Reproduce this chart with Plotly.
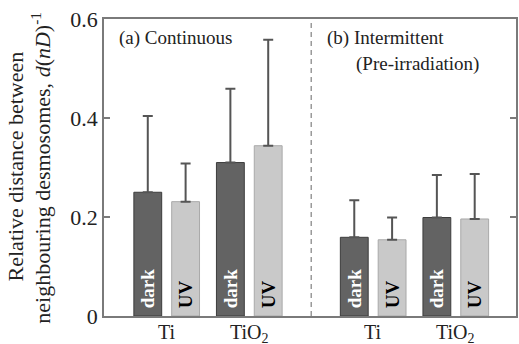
import plotly.graph_objects as go

# ---- data ----
categories = ["Ti", "TiO<sub>2</sub>"]
panels = ["(a) Continuous", "(b) Intermittent", "(Pre-irradiation)"]
series_names = ["dark", "UV"]
dark_mean = [0.250, 0.310, 0.159, 0.199]
dark_err = [0.154, 0.149, 0.075, 0.086]
uv_mean = [0.231, 0.344, 0.154, 0.196]
uv_err = [0.077, 0.214, 0.045, 0.091]
y_ticks = [0, 0.2, 0.4, 0.6]
y_ticktext = ["0", "0.2", "0.4", "0.6"]
y_title_lines = ["Relative distance between",
                 "neighbouring desmosomes, <i>d</i>(<i>nD</i>)<sup>-1</sup>"]

# group positions: two panels, two categories each, panels separated by an extra half slot
group_x = [1 + c + 2.5 * p for p in range(2) for c in range(len(categories))]
ticktext = categories * 2
divider_x = (group_x[1] + group_x[2]) / 2

SERIF = "Times New Roman, Liberation Serif, serif"

fig = go.Figure()
fig.add_trace(go.Bar(
    x=group_x, y=dark_mean, name=series_names[0],
    marker=dict(color="#636363", line=dict(color="#3c3c3c", width=1)),
    error_y=dict(type="data", array=dark_err, arrayminus=[0] * len(dark_err),
                 symmetric=False, color="#555555", thickness=2, width=5),
    text=[" " + series_names[0]] * len(dark_mean), textposition="inside",
    insidetextanchor="start", textangle=-90, constraintext="none",
    textfont=dict(family=SERIF, size=19, color="white", weight="bold"),
    hoverinfo="skip",
))
fig.add_trace(go.Bar(
    x=group_x, y=uv_mean, name=series_names[1],
    marker=dict(color="#c9c9c9", line=dict(color="#a9a9a9", width=1)),
    error_y=dict(type="data", array=uv_err, arrayminus=[0] * len(uv_err),
                 symmetric=False, color="#555555", thickness=2, width=5),
    text=[" " + series_names[1]] * len(uv_mean), textposition="inside",
    insidetextanchor="start", textangle=-90, constraintext="none",
    textfont=dict(family=SERIF, size=19, color="black", weight="bold"),
    hoverinfo="skip",
))

fig.add_shape(type="line", xref="x", yref="paper", x0=divider_x, x1=divider_x,
              y0=0, y1=1, line=dict(color="#9a9a9a", width=1.5, dash="5px,4px"))

ann_font = dict(family=SERIF, size=19, color="#222222")
fig.add_annotation(text=panels[0], xref="paper", yref="paper", x=0.031, y=0.935,
                   xanchor="left", yanchor="middle", showarrow=False, font=ann_font)
fig.add_annotation(text=panels[1], xref="paper", yref="paper", x=0.536, y=0.935,
                   xanchor="left", yanchor="middle", showarrow=False, font=ann_font)
fig.add_annotation(text=panels[2], xref="paper", yref="paper", x=0.606, y=0.85,
                   xanchor="left", yanchor="middle", showarrow=False, font=ann_font)

title_font = dict(family=SERIF, size=22, color="#222222")
fig.add_annotation(text=y_title_lines[0], xref="paper", yref="paper", x=-0.215, y=0.505,
                   xanchor="center", yanchor="middle", textangle=-90, showarrow=False,
                   font=title_font)
fig.add_annotation(text=y_title_lines[1], xref="paper", yref="paper", x=-0.155, y=0.50,
                   xanchor="center", yanchor="middle", textangle=-90, showarrow=False,
                   font=title_font)

# category labels under the axis
tick_font = dict(family=SERIF, size=20, color="#222222")
for gx, label in zip(group_x, ticktext):
    fig.add_annotation(text=label, xref="x", yref="paper", x=gx, y=0,
                       xanchor="center", yanchor="top", yshift=-3,
                       showarrow=False, font=tick_font)

fig.update_layout(
    width=519, height=344,
    margin=dict(l=104, r=1, t=19, b=28, pad=0),
    paper_bgcolor="white", plot_bgcolor="white",
    barmode="group", bargap=0.084, bargroupgap=0.264,
    showlegend=False,
    font=dict(family=SERIF, size=22, color="#222222"),
)
fig.update_xaxes(
    range=[0.241, 5.229], tickvals=group_x, showticklabels=False, ticks="",
    showline=True, linecolor="#7a7a7a", linewidth=1.5, mirror=True,
    showgrid=False, zeroline=False,
)
fig.update_yaxes(
    range=[0, 0.6], tickvals=y_ticks, ticktext=y_ticktext, ticks="inside",
    ticklen=6, tickcolor="#7a7a7a", tickwidth=1.5,
    showline=True, linecolor="#7a7a7a", linewidth=1.5, mirror="ticks",
    showgrid=False, zeroline=False,
    tickfont=dict(family=SERIF, size=22, color="#222222"),
)

fig.write_html("out.html", config={"displayModeBar": False},
               post_script="document.body.style.margin='0';document.body.style.overflow='hidden';")
